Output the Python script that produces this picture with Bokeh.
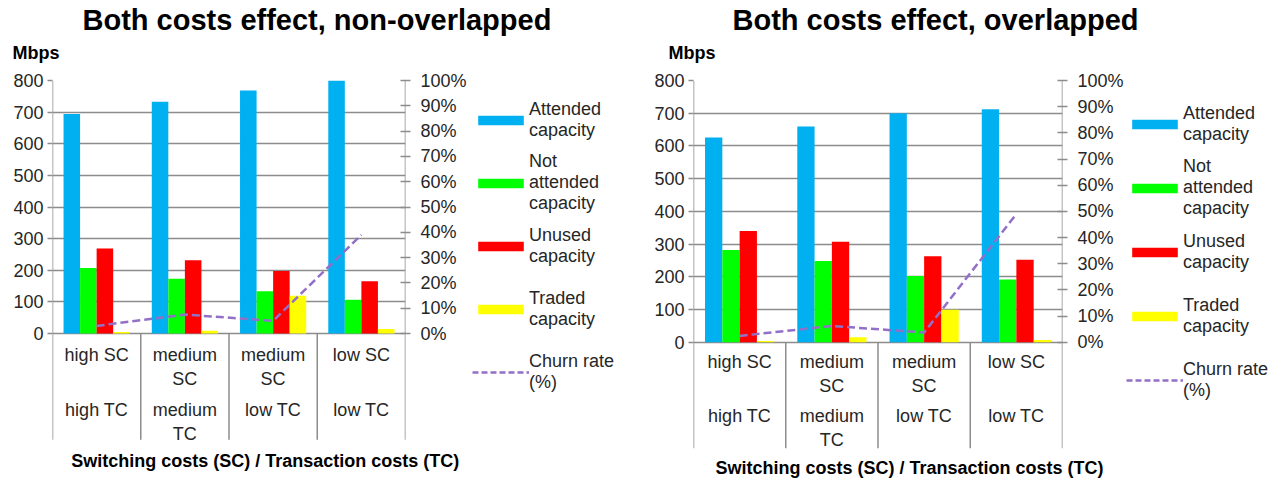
import numpy as np
from bokeh.plotting import figure
from bokeh.models import (ColumnDataSource, FactorRange, Range1d, LinearAxis, FixedTicker,
                          Legend, LegendItem, Title)
from bokeh.transform import dodge
from bokeh.layouts import row, column
from bokeh.embed import file_html
from bokeh.resources import INLINE
from bokeh.core.properties import value

# ---------------- data ----------------
categories = ["high SC / high TC", "medium SC / medium TC", "medium SC / low TC", "low SC / low TC"]
sc_labels = ["high SC", "medium\nSC", "medium\nSC", "low SC"]
tc_labels = ["high TC", "medium\nTC", "low TC", "low TC"]

series_names = ["Attended\ncapacity", "Not\nattended\ncapacity", "Unused\ncapacity", "Traded\ncapacity"]
churn_name = "Churn rate\n(%)"
x_title = "Switching costs (SC) / Transaction costs (TC)"
y_title = "Mbps"

# non-overlapped (Mbps)
nov_attended = [694, 733, 768, 800]
nov_not_attended = [207, 173, 134, 107]
nov_unused = [269, 232, 198, 165]
nov_traded = [5, 9, 119, 14]
nov_churn = [3.0, 7.5, 5.0, 39.0]   # %

# overlapped (Mbps)
ov_attended = [626, 659, 700, 712]
ov_not_attended = [282, 248, 202, 192]
ov_unused = [340, 307, 263, 252]
ov_traded = [4, 15, 99, 7]
ov_churn = [2.4, 6.2, 3.7, 49.0]    # %

mbps_ticks = [0, 100, 200, 300, 400, 500, 600, 700, 800]
pct_ticks = [0, 10, 20, 30, 40, 50, 60, 70, 80, 90, 100]

# ---------------- styles ----------------
FONT = "Liberation Sans"
COLORS = ["#00B0F0", "#00FF00", "#FF0000", "#FFFF00"]
CHURN_COLOR = "#9370C8"
GRID = "#8C8C8C"
TXT = "#262626"
BAR_W = 0.1875
OFFSETS = [-0.28125, -0.09375, 0.09375, 0.28125]
TOP_H = 70          # height of the title strip
CH_H = 484 - TOP_H  # height of the chart strip
BOT = 36            # bottom border of the chart strip


def bare(width, height, top=0, bottom=0):
    f = figure(width=width, height=height, min_border_left=0, min_border_right=0,
               min_border_top=top, min_border_bottom=bottom,
               x_range=Range1d(0, 1), y_range=Range1d(0, 1),
               x_axis_location=None, y_axis_location=None,
               output_backend="svg", toolbar_location=None, title=None)
    f.outline_line_color = None
    f.xgrid.visible = False
    f.ygrid.visible = False
    return f


def build_title(width, title, lay):
    t = bare(width, TOP_H)
    t.add_layout(Title(text=y_title, align="left", offset=lay["mo"], text_font=FONT,
                       text_font_size="18px", text_font_style="bold", text_color="black",
                       vertical_align="bottom", standoff=lay["ms"]), "above")
    t.add_layout(Title(text=title, align="left", offset=lay["to"], text_font=FONT,
                       text_font_size="29px", text_font_style="bold", text_color="black",
                       vertical_align="bottom", standoff=2), "above")
    return t


def build(series, churn, lay):
    ymin = lay["ymin"]
    p = figure(x_range=FactorRange(*categories), y_range=Range1d(ymin, 800),
               width=lay["w"], height=CH_H,
               min_border_left=lay["bl"], min_border_right=lay["br"],
               min_border_top=10, min_border_bottom=BOT,
               x_axis_location=None,
               output_backend="svg", toolbar_location=None, title=None)
    p.extra_y_ranges = {"pct": Range1d(ymin / 8.0, 100)}
    p.outline_line_color = None
    p.background_fill_color = "white"
    p.border_fill_color = "white"

    src = ColumnDataSource(dict(cat=categories, a=series[0], b=series[1], c=series[2],
                                d=series[3], churn=churn, sc=sc_labels, tc=tc_labels))
    for col, off, color in zip(["a", "b", "c", "d"], OFFSETS, COLORS):
        p.vbar(x=dodge("cat", off, range=p.x_range), top=col, bottom=0, width=BAR_W,
               source=src, fill_color=color, line_color=None)
    p.line(x="cat", y="churn", source=src, y_range_name="pct", line_color=CHURN_COLOR,
           line_width=2.5, line_dash="8 4")

    # box lines: axis lines + category separators in the label area
    yb = lay["ysep"]
    p.segment(x0=dodge("cat", -0.5, range=p.x_range), y0=800,
              x1=dodge("cat", -0.5, range=p.x_range), y1=yb,
              source=ColumnDataSource(dict(cat=[categories[0]])),
              line_color=GRID, line_width=1.5)
    p.segment(x0=dodge("cat", 0.5, range=p.x_range), y0=800,
              x1=dodge("cat", 0.5, range=p.x_range), y1=yb,
              source=ColumnDataSource(dict(cat=[categories[-1]])),
              line_color=GRID, line_width=1.5)
    p.segment(x0=dodge("cat", 0.5, range=p.x_range), y0=0,
              x1=dodge("cat", 0.5, range=p.x_range), y1=yb,
              source=ColumnDataSource(dict(cat=categories[:-1])),
              line_color=GRID, line_width=1.5)

    # category labels
    for col, yoff in (("sc", lay["r1"]), ("tc", lay["r2"])):
        p.text(x="cat", y=0, text=col, source=src, text_align="center", text_baseline="top",
               y_offset=yoff, text_font=value(FONT), text_font_size="18px",
               text_color=TXT, text_line_height=1.2)

    # left axis / grid
    p.yaxis.ticker = FixedTicker(ticks=mbps_ticks)
    p.ygrid.ticker = FixedTicker(ticks=mbps_ticks)
    p.ygrid.grid_line_color = GRID
    p.ygrid.grid_line_width = 1.5
    p.xgrid.visible = False
    for ax in p.yaxis:
        ax.axis_line_color = None
        ax.major_tick_line_color = GRID
        ax.major_tick_line_width = 1.5
        ax.major_tick_out = 5
        ax.major_tick_in = 0
        ax.minor_tick_line_color = None
        ax.major_label_text_font = FONT
        ax.major_label_text_font_size = "18px"
        ax.major_label_text_color = TXT
        ax.major_label_standoff = 4

    # right axis
    ra = LinearAxis(y_range_name="pct", ticker=FixedTicker(ticks=pct_ticks),
                    major_label_overrides={t: f"{t}%" for t in pct_ticks})
    ra.axis_line_color = None
    ra.major_tick_line_color = GRID
    ra.major_tick_line_width = 1.5
    ra.major_tick_out = 5
    ra.major_tick_in = 5
    ra.minor_tick_line_color = None
    ra.major_label_text_font = FONT
    ra.major_label_text_font_size = "18px"
    ra.major_label_text_color = TXT
    ra.major_label_standoff = 10
    p.add_layout(ra, "right")

    # x axis title
    p.add_layout(Title(text=x_title, align="left", offset=lay["xo"], text_font=FONT,
                       text_font_size="18px", text_font_style="bold", text_color="black",
                       vertical_align=lay["xva"], standoff=lay["xs"]), "below")
    return p


def build_legend(width, lay):
    q = bare(width, CH_H, top=10, bottom=BOT)
    nan = np.array([np.nan])
    rs = [q.vbar(x=np.array([0.5]), top=nan, width=0.1, fill_color=c, line_color=None)
          for c in COLORS]
    rl = q.line(x=np.array([np.nan, np.nan]), y=np.array([np.nan, np.nan]),
                line_color=CHURN_COLOR, line_width=2.5, line_dash="6 3")
    items = [LegendItem(label=n, renderers=[r]) for n, r in zip(series_names, rs)]
    items.append(LegendItem(label=churn_name, renderers=[rl]))
    lg = Legend(items=items, location=(0, lay["vy"]), glyph_width=57, glyph_height=12,
                label_text_font=FONT, label_text_font_size="18px", label_text_color=TXT,
                label_text_line_height=1.17, label_standoff=0,
                label_height=lay["lh"], spacing=0, padding=0, margin=0,
                border_line_color=None, background_fill_alpha=0)
    q.add_layout(lg, "center")
    return q


t1 = build_title(620, "Both costs effect, non-overlapped", dict(mo=12, ms=8.6, to=82))
t2 = build_title(652, "Both costs effect, overlapped", dict(mo=48, ms=8.6, to=112))

p1 = build([nov_attended, nov_not_attended, nov_unused, nov_traded], nov_churn,
           dict(ymin=-363.6, ysep=-336.1, w=472, bl=52, br=67, r1=11, r2=66,
                xo=18.7, xva="top", xs=4.8))
l1 = build_legend(148, dict(vy=45.0, lh=63))
p2 = build([ov_attended, ov_not_attended, ov_unused, ov_traded], ov_churn,
           dict(ymin=-325.0, ysep=-325.0, w=506, bl=73, br=61, r1=10, r2=64,
                xo=22.0, xva="bottom", xs=13.9))
l2 = build_legend(146, dict(vy=36.3, lh=64))

layout = column(row(t1, t2), row(p1, l1, p2, l2))
open("out.html", "w").write(file_html(layout, INLINE))
